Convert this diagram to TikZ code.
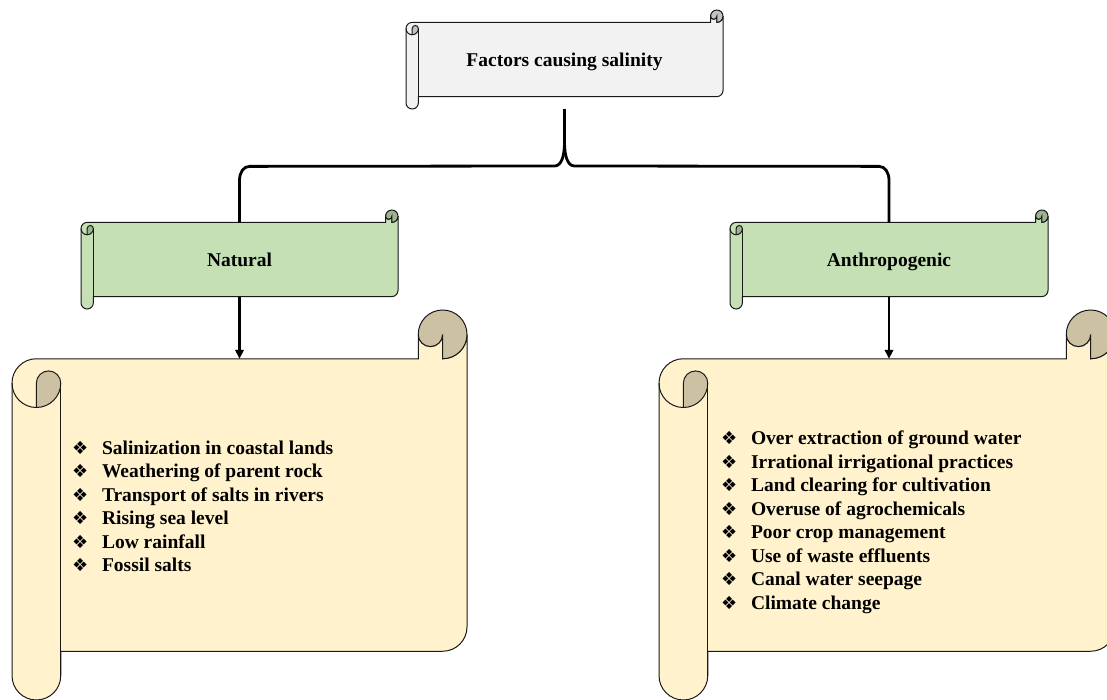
\documentclass[tikz,border=0pt]{standalone}
\usepackage{fontspec}
\setmainfont{Liberation Serif}
\newfontfamily\symfont{DejaVu Sans}
\usepackage{tikz}
\usetikzlibrary{calc,positioning,arrows.meta}

\definecolor{scrgray}{HTML}{F2F2F2}
\definecolor{scrgraydk}{HTML}{C2C2C2}
\definecolor{scrgreen}{HTML}{C5E0B4}
\definecolor{scrgreendk}{HTML}{9EB390}
\definecolor{scrcream}{HTML}{FFF2CC}
\definecolor{scrcreamdk}{HTML}{CCC2A3}

\tikzset{
    scrollline/.style={draw=black!90, line width=1pt},
    scrolltext/.style={inner sep=0pt, text height=15pt, text depth=0pt, font=\fontsize{19.5}{23.5}\selectfont\bfseries},
    listtext/.style={inner sep=0pt, align=left, font=\fontsize{19.5}{23.5}\selectfont\bfseries},
    bracelink/.style={line width=2.8pt},
    arrowlink/.style={line width=2.2pt, -{Triangle[length=9pt,width=8.5pt]}},
}

% horizontal scroll: name, left, top, right, bottom, fill, curl fill, text
\newcommand{\hscroll}[8]{%
    \pgfmathsetmacro{\scrw}{#4-#2}\pgfmathsetmacro{\scrht}{#5-#3}
    \pgfmathsetmacro{\scrch}{0.125*min(\scrw,\scrht)}
    \pgfmathsetmacro{\scrh}{\scrch/2}\pgfmathsetmacro{\scrq}{\scrch/4}
    \draw[scrollline, fill=#6] (#4,#3+\scrh) arc[start angle=0,end angle=90,radius=\scrh]
        -- (#4-\scrh,#3+\scrh) arc[start angle=0,end angle=180,radius=\scrq]
        -- (#4-\scrch,#3+\scrch) -- (#2+\scrh,#3+\scrch)
        arc[start angle=270,end angle=180,radius=\scrh]
        -- (#2,#5-\scrh) arc[start angle=180,end angle=0,radius=\scrh]
        -- (#2+\scrch,#5-\scrch) -- (#4-\scrh,#5-\scrch)
        arc[start angle=90,end angle=0,radius=\scrh] -- cycle;
    \draw[scrollline, fill=#7] (#2+\scrh,#3+2*\scrch) arc[start angle=90,end angle=0,radius=\scrh]
        arc[start angle=0,end angle=-180,radius=\scrq] -- cycle;
    \draw[scrollline, fill=#7] (#4-\scrh,#3+\scrch) arc[start angle=90,end angle=-180,radius=\scrh]
        arc[start angle=180,end angle=0,radius=\scrq] -- cycle;
    \draw[scrollline] (#2,#3+\scrch+\scrh) arc[start angle=180,end angle=90,radius=\scrh];
    \draw[scrollline] (#2+\scrch,#3+\scrch+\scrh) -- (#2+\scrch,#5-\scrh);
    \node[scrolltext, minimum width=\scrw pt, minimum height=\scrht pt] (#1) at ({(#2+#4)/2},{(#3+#5)/2}) {#8};
    \coordinate (#1-top) at ({(#2+#4)/2},#3+\scrch);
    \coordinate (#1-bot) at ({(#2+#4)/2},#5-\scrch);
}
\newcommand{\bul}{\makebox[30pt][l]{\symfont\fontsize{18}{18}\selectfont ❖}}

\begin{document}
\begin{tikzpicture}[x=1pt,y=-1pt]
    \useasboundingbox (0,0) rectangle (1107,700);
    \clip (0,0) rectangle (1107,700);

    \hscroll{cause}{406}{10}{723}{109}{scrgray}{scrgraydk}{Factors causing salinity}
    \hscroll{nat}{81}{210}{398}{309}{scrgreen}{scrgreendk}{Natural}
    \hscroll{anth}{730}{210}{1048}{309}{scrgreen}{scrgreendk}{Anthropogenic}
    \hscroll{natlist}{12}{310}{467}{700}{scrcream}{scrcreamdk}{}
    \hscroll{anthlist}{659}{310}{1115}{700}{scrcream}{scrcreamdk}{}

    \coordinate (fork) at (cause.south |- 0,166);
    \draw[bracelink] (nat-top) -- ++(0,-42) .. controls +(0,-8) and +(-6,0) .. ++(10,-14)
        -- ($(fork)+(-10,0)$) .. controls +(7,0) and +(0,14) .. ($(fork)+(0,-24)$) -- (cause.south);
    \draw[bracelink] (anth-top) -- ++(0,-42) .. controls +(0,-8) and +(6,0) .. ++(-10,-14)
        -- ($(fork)+(10,0)$) .. controls +(-7,0) and +(0,14) .. ($(fork)+(0,-24)$);

    \draw[arrowlink] (nat-bot) -- (nat-bot |- natlist-top);
    \draw[arrowlink] (anth-bot) -- (anth-bot |- anthlist-top);

    \node[listtext, anchor=west] (natitems) at ($(natlist.west)+(60,1.5)$) {%
        \bul Salinization in coastal lands\\
        \bul Weathering of parent rock\\
        \bul Transport of salts in rivers\\
        \bul Rising sea level\\
        \bul Low rainfall\\
        \bul Fossil salts};
    \node[listtext, anchor=west] (anthitems) at ($(anthlist.west)+(62,17.5)$) {%
        \bul Over extraction of ground water\\
        \bul Irrational irrigational practices\\
        \bul Land clearing for cultivation\\
        \bul Overuse of agrochemicals\\
        \bul Poor crop management\\
        \bul Use of waste effluents\\
        \bul Canal water seepage\\
        \bul Climate change};
\end{tikzpicture}
\end{document}
